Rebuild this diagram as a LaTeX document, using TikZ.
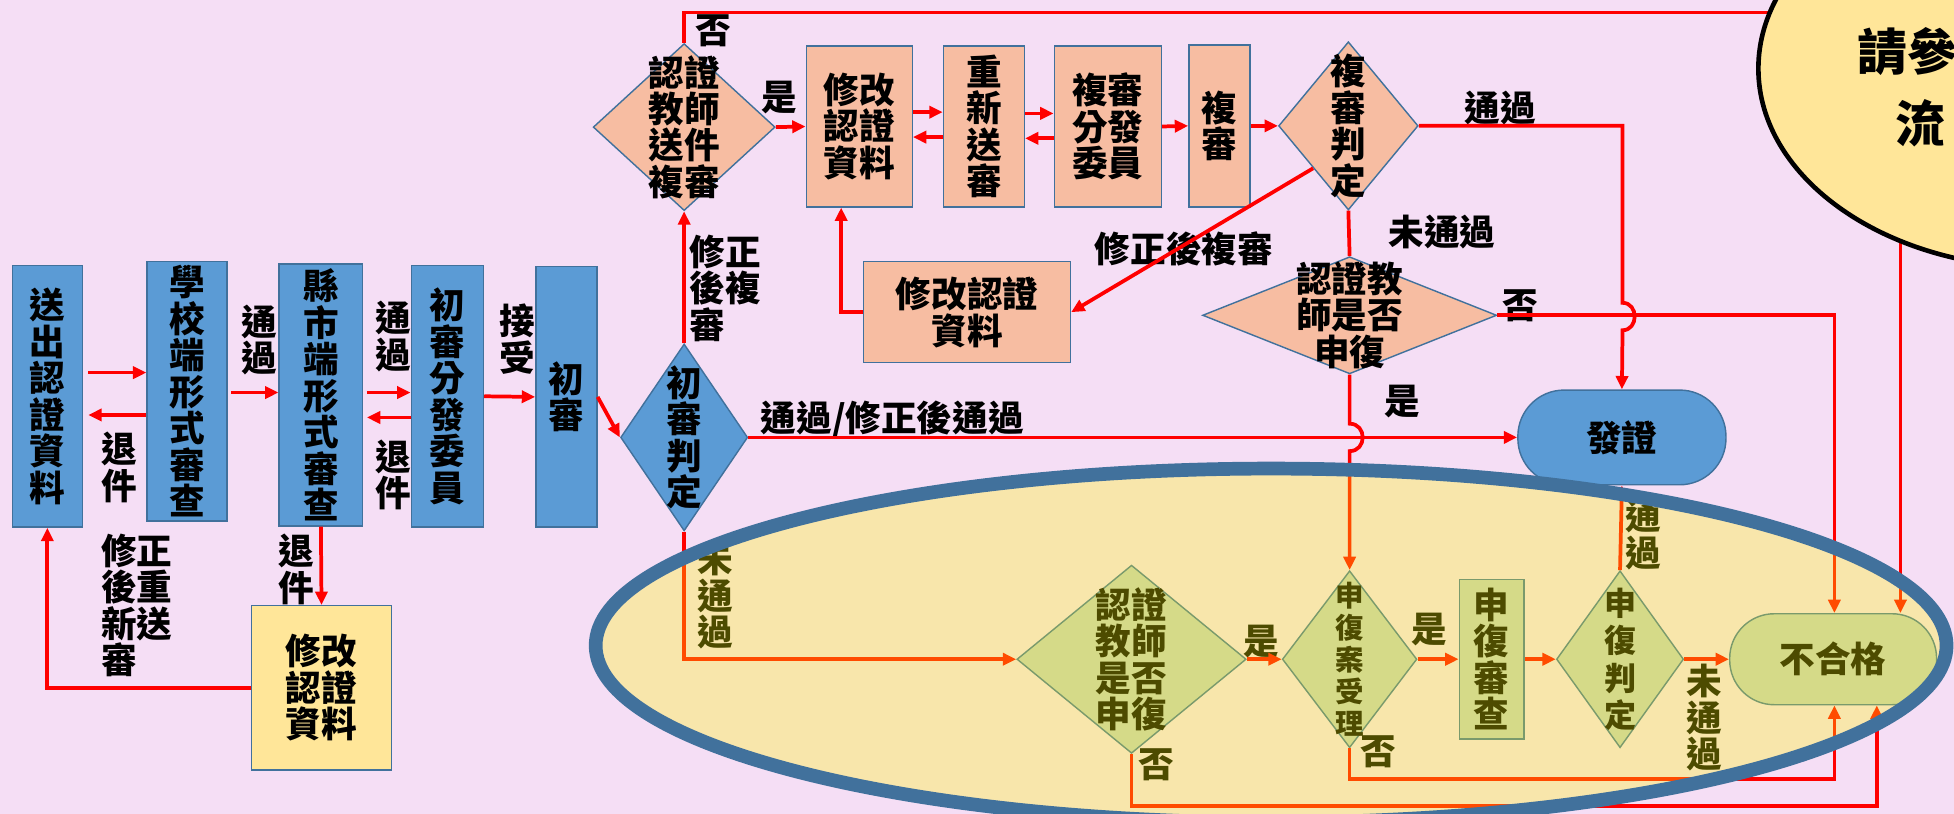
\documentclass[tikz,border=0pt]{standalone}
\usepackage{fontspec}
\setmainfont{Noto Sans CJK TC}
\usetikzlibrary{arrows.meta,shapes.geometric}
\definecolor{fundo}{RGB}{245,222,245}
\definecolor{azul}{RGB}{91,155,213}
\definecolor{bordaazul}{RGB}{65,113,156}
\definecolor{salmao}{RGB}{247,189,162}
\definecolor{amarelo}{RGB}{255,230,153}
\definecolor{verde}{RGB}{196,205,195}
\definecolor{ovalo}{RGB}{255,250,0}
\definecolor{vermelho}{RGB}{255,0,0}
\begin{document}
\begin{tikzpicture}[x=0.7pt, y=-0.7pt, font=\fontsize{20}{20.5}\selectfont\bfseries,
	every label/.style={align=center},
	caixa/.style={draw=bordaazul, line width=0.8pt, inner sep=0pt, align=center},
	caixaazul/.style={caixa, fill=azul},
	caixasalmao/.style={caixa, fill=salmao},
	caixaverde/.style={caixa, fill=verde},
	losango/.style={diamond, draw=bordaazul, line width=0.8pt, inner sep=0pt},
	linha/.style={draw=vermelho, line width=2.1pt},
	fluxo/.style={linha, -{Triangle[length=7.5pt,width=6.8pt]}},
	rot/.style={align=left, inner sep=0pt}] %Início do desenho
	\path[use as bounding box, fill=fundo] (0,0) rectangle (1568,653); %Fundo
		%Caixas da esquerda
	\node[caixaazul, minimum width=39.2pt, minimum height=147pt] (envio) at (38,318) {送\\出\\認\\證\\資\\料};
	\node[caixaazul, minimum width=44.8pt, minimum height=145.6pt] (escola) at (150,314) {學\\校\\端\\形\\式\\審\\查};
	\node[caixaazul, minimum width=46.9pt, minimum height=147pt] (condado) at (257.5,317) {縣\\市\\端\\形\\式\\審\\查};
	\node[caixaazul, minimum width=40.6pt, minimum height=147pt] (distrib) at (359,318) {初\\審\\分\\發\\委\\員};
	\node[caixaazul, minimum width=34.3pt, minimum height=146.3pt] (inicial) at (454.5,318.5) {初\\審};
	\node[caixa, fill=amarelo, minimum width=78.4pt, minimum height=92.4pt] (corrige) at (258,552) {修改\\認證\\資料};
		%Losangos e caixas de cima
	\node[losango, fill=azul, minimum width=71.4pt, minimum height=105pt, label=center:{初\\審\\判\\定}] (juizo1) at (549,351) {};
	\node[losango, fill=salmao, minimum width=102.2pt, minimum height=93.8pt, label=center:{認證\\教師\\送件\\複審}] (reenvio) at (549,102) {};
	\node[caixasalmao, minimum width=59.5pt, minimum height=90.3pt] (modA) at (689.5,101.5) {修改\\認證\\資料};
	\node[caixasalmao, minimum width=45.5pt, minimum height=90.3pt] (reenv) at (789.5,101.5) {重\\新\\送\\審};
	\node[caixasalmao, minimum width=60.2pt, minimum height=90.3pt] (distrib2) at (889,101.5) {複審\\分發\\委員};
	\node[caixasalmao, minimum width=34.3pt, minimum height=91pt] (revisao) at (978.5,101) {複\\審};
	\node[losango, fill=salmao, minimum width=78.4pt, minimum height=94.5pt, label=center:{複\\審\\判\\定}] (juizo2) at (1082,101) {};
	\node[caixasalmao, minimum width=116.2pt, minimum height=56.7pt] (modB) at (776,250.5) {修改認證\\資料};
	\node[losango, fill=salmao, minimum width=165.2pt, minimum height=65.8pt, label=center:{認證教\\師是否\\申復}] (recurso1) at (1083,253) {};
	\node[caixaazul, rounded corners=26pt, minimum width=116.9pt, minimum height=53.2pt] (emite) at (1301.5,351) {發證};
		%Parte de baixo
	\node[losango, fill=verde, minimum width=128.8pt, minimum height=105.7pt, label=center:{認證\\教師\\是否\\申復}] (recurso2) at (908,529) {};
	\node[losango, fill=verde, minimum width=75.6pt, minimum height=99.4pt, label={[font=\fontsize{16}{18}\selectfont\bfseries]center:{申\\復\\案\\受\\理}}] (aceita) at (1083,529) {};
	\node[caixaverde, minimum width=36.4pt, minimum height=89.6pt] (exame) at (1197,529) {申\\復\\審\\查};
	\node[losango, fill=verde, minimum width=71.4pt, minimum height=99.4pt, label={[font=\fontsize{18}{21}\selectfont\bfseries]center:{申\\復\\判\\定}}] (juizo3) at (1300,529) {};
	\node[caixaverde, rounded corners=25pt, minimum width=116.2pt, minimum height=51.1pt] (reprova) at (1471,529) {不合格};
		%Rótulos
	\node[rot] (r-dev1) at (96,375) {退\\件};
	\node[rot] (r-ok1) at (208,273) {通\\過};
	\node[rot] (r-ok2) at (316,270) {通\\過};
	\node[rot] (r-dev2) at (316,381) {退\\件};
	\node[rot] (r-aceito) at (415,272) {接\\受};
	\node[rot, anchor=north west] (r-corr1) at (81,428) {修正\\後重\\新送\\審};
	\node[rot] (r-dev3) at (238,457) {退\\件};
	\node[rot, anchor=north west] (r-corr2) at (553,188) {修正\\後複\\審};
	\node[rot] (r-sim1) at (625,78) {是};
	\node[rot] (r-nao1) at (572,25) {否};
	\node[rot] (r-pass) at (716,337) {通過/修正後通過};
	\node[rot] (r-corr3) at (950,200) {修正後複審};
	\node[rot] (r-ok3) at (1204,87) {通過};
	\node[rot] (r-fail1) at (1157,186) {未通過};
	\node[rot] (r-nao2) at (1220,245) {否};
	\node[rot] (r-sim2) at (1125,322) {是};
	\node[rot] (r-fail2) at (574,478) {未\\通\\過};
	\node[rot] (r-sim3) at (1012,515) {是};
	\node[rot] (r-nao3) at (928,614) {否};
	\node[rot] (r-sim4) at (1147,505) {是};
	\node[rot] (r-nao4) at (1106,603) {否};
	\node[rot] (r-ok4) at (1319,429) {通\\過};
	\node[rot] (r-fail3) at (1368,576) {未\\通\\過};
		%Setas da esquerda
	\draw[fluxo, shorten <=3pt] (envio.east |- 0,299) -- (escola.west |- 0,299);
	\draw[fluxo, shorten >=3pt] (escola.west |- 0,333) -- (envio.east |- 0,333);
	\draw[fluxo, shorten <=2pt] (escola.east |- 0,315) -- (condado.west |- 0,315);
	\draw[fluxo, shorten <=2pt] (condado.east |- 0,315) -- (distrib.west |- 0,315);
	\draw[fluxo, shorten >=2pt] (distrib.west |- 0,335) -- (condado.east |- 0,335);
	\draw[fluxo] (distrib.east) -- (inicial.west);
	\draw[fluxo] (inicial.east) -- (juizo1.west);
	\draw[fluxo] (condado.south) -- (corrige.north);
	\draw[fluxo] (corrige.west) -| (envio.south);
		%Setas de cima
	\draw[fluxo] (juizo1.north) -- (reenvio.south);
	\draw[fluxo] (reenvio.east) -- (modA.west);
	\draw[fluxo] (modA.east |- 0,90) -- (reenv.west |- 0,90);
	\draw[fluxo] (reenv.west |- 0,110) -- (modA.east |- 0,110);
	\draw[fluxo] (reenv.east |- 0,91) -- (distrib2.west |- 0,91);
	\draw[fluxo] (distrib2.west |- 0,111) -- (reenv.east |- 0,111);
	\draw[fluxo] (distrib2.east) -- (revisao.west);
	\draw[fluxo] (revisao.east) -- (juizo2.west);
	\draw[fluxo] (juizo2.south west) -- (modB.east);
	\draw[fluxo] (modB.west) -| (modA.south -| 675,0);
	\draw[linha] (juizo2.south) -- (recurso1.north);
	\draw[fluxo] (juizo2.east) -- (1302,101) -- (1302,243) .. controls +(13,0) and +(13,0) .. (1302,265) -- (emite.north);
	\draw[fluxo] (recurso1.east) -| (reprova.north -| 1472,0);
	\draw[fluxo] (recurso1.south) -- (1083,340) .. controls +(14,0) and +(14,0) .. (1083,362) -- (aceita.north);
	\draw[fluxo] (reenvio.north) |- (1525,10) -- (reprova.north -| 1525,0);
	\draw[fluxo] (juizo1.east) -- (emite.west);
		%Setas de baixo
	\draw[fluxo] (juizo1.south) |- (recurso2.west);
	\draw[fluxo] (recurso2.east) -- (aceita.west);
	\draw[fluxo] (aceita.east) -- (exame.west);
	\draw[fluxo] (exame.east) -- (juizo3.west);
	\draw[fluxo] (juizo3.east) -- (reprova.west);
	\draw[fluxo] (juizo3.north) -- (emite.south);
	\draw[fluxo] (recurso2.south) |- (1506,647) -- (reprova.south -| 1506,0);
	\draw[fluxo] (aceita.south) |- (1472,625) -- (reprova.south -| 1472,0);
		%Elipse e balão
	\draw[draw=bordaazul, line width=7.7pt, fill=ovalo, fill opacity=0.3] (1020,518) ellipse [x radius=379.4pt, y radius=99.4pt];
	\draw[line width=2.6pt, fill=amarelo] (1640,55) ellipse [x radius=160.3pt, y radius=112pt];
	\node[anchor=west, inner sep=0pt, font=\fontsize{28}{30}\selectfont\bfseries] (aviso1) at (1490,41) {請參};
	\node[anchor=west, inner sep=0pt, font=\fontsize{28}{30}\selectfont\bfseries] (aviso2) at (1521,99) {流};
\end{tikzpicture}
\end{document}
